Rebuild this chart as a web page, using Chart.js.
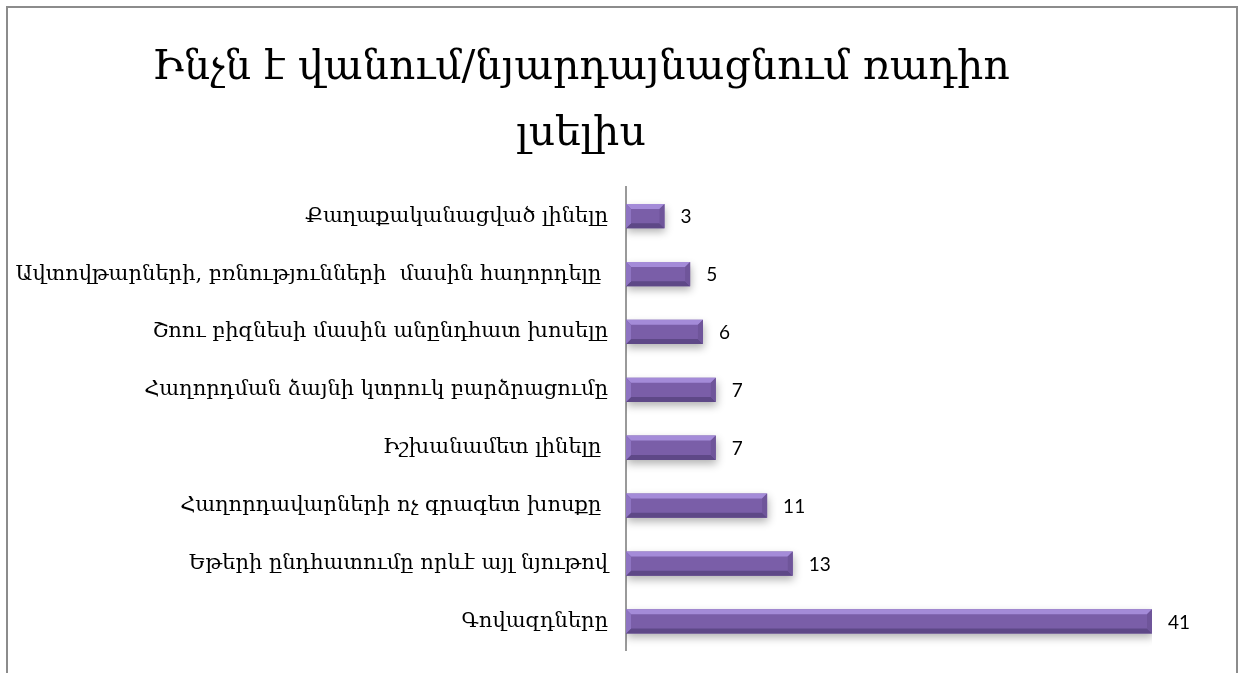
<!DOCTYPE html>
<html>
<head>
<meta charset="utf-8">
<script src="https://cdn.jsdelivr.net/npm/chart.js@4"></script>
<style>
  body { margin: 0; background: #fff; }
  #frame { position: absolute; left: 6px; top: 6px; width: 1228px; height: 700px; border: 2px solid #8c8c8c; }
  #wrap { position: absolute; left: 0; top: 0; width: 1240px; height: 673px; }
</style>
</head>
<body>
<div id="frame"></div>
<div id="wrap"><canvas id="chart" width="1240" height="673"></canvas></div>
<script>
const titleLines = ['Ինչն է վանում/նյարդայնացնում ռադիո', 'լսելիս'];
const categories = [
    'Քաղաքականացված լինելը',
    'Ավտովթարների, բռնությունների  մասին հաղորդելը ',
    'Շոու բիզնեսի մասին անընդհատ խոսելը',
    'Հաղորդման ձայնի կտրուկ բարձրացումը',
    'Իշխանամետ լինելը ',
    'Հաղորդավարների ոչ գրագետ խոսքը ',
    'Եթերի ընդհատումը որևէ այլ նյութով',
    'Գովազդները'
];
const values = [3, 5, 6, 7, 7, 11, 13, 41];

// bevel + shadow look for the bars
const bevelBars = {
    id: 'bevelBars',
    beforeDatasetDraw(chart) {
        const ctx = chart.ctx;
        ctx.save();
        ctx.shadowColor = 'rgba(0,0,0,0.3)';
        ctx.shadowBlur = 8;
        ctx.shadowOffsetY = 4;
        ctx.shadowOffsetX = 1;
    },
    afterDatasetDraw(chart) {
        const ctx = chart.ctx;
        ctx.restore();
        const meta = chart.getDatasetMeta(0);
        const b = 5;
        meta.data.forEach(bar => {
            const l = bar.base, r = bar.x;
            const t = bar.y - bar.height / 2, btm = bar.y + bar.height / 2;
            const poly = (pts, color) => {
                ctx.beginPath();
                ctx.moveTo(pts[0][0], pts[0][1]);
                pts.slice(1).forEach(p => ctx.lineTo(p[0], p[1]));
                ctx.closePath();
                ctx.fillStyle = color;
                ctx.fill();
            };
            ctx.save();
            poly([[l, t], [r, t], [r - b, t + b], [l + b, t + b]], '#a48bd8');
            poly([[l, btm], [r, btm], [r - b, btm - b], [l + b, btm - b]], '#5e4887');
            poly([[r, t], [r, btm], [r - b, btm - b], [r - b, t + b]], '#6f559a');
            poly([[l, t], [l + b, t + b], [l + b, btm - b], [l, btm]], '#8e74c2');
            ctx.restore();
        });
        // value labels
        ctx.save();
        ctx.font = '19px Lato';
        ctx.fillStyle = '#000';
        ctx.textAlign = 'left';
        ctx.textBaseline = 'middle';
        meta.data.forEach((bar, i) => {
            ctx.fillText(String(values[i]), bar.x + 16, bar.y + 1);
        });
        ctx.restore();
    }
};

const ctx = document.getElementById('chart').getContext('2d');
const chart = new Chart(ctx, {
    type: 'bar',
    data: {
        labels: categories,
        datasets: [{
            data: values,
            backgroundColor: function(c) {
                const el = c.element;
                if (!el || el.height === undefined) return '#7a5ea8';
                const t = el.y - el.height / 2;
                const g = c.chart.ctx.createLinearGradient(0, t, 0, t + el.height);
                g.addColorStop(0, '#8f74c4');
                g.addColorStop(0.5, '#7a5ea8');
                g.addColorStop(1, '#6a5096');
                return g;
            },
            borderWidth: 0,
            barPercentage: 0.42,
            categoryPercentage: 1
        }]
    },
    options: {
        responsive: false,
        animation: false,
        indexAxis: 'y',
        layout: { padding: { left: 10, right: 88, top: 20, bottom: 20 } },
        plugins: {
            legend: { display: false },
            tooltip: { enabled: false },
            title: {
                display: true,
                text: titleLines,
                color: '#000',
                font: { family: 'DejaVu Serif', size: 41, weight: 'normal', lineHeight: 1.6 },
                padding: { top: 16, bottom: 20 }
            }
        },
        scales: {
            x: { display: false, min: 0, max: 41 },
            y: {
                grid: { display: false },
                border: { display: true, color: '#9a9a9a', width: 2 },
                ticks: {
                    color: '#000',
                    padding: 10,
                    font: { family: 'DejaVu Serif', size: 21 }
                },
                afterFit(scale) { scale.width = 616; }
            }
        }
    },
    plugins: [bevelBars]
});
</script>
</body>
</html>
